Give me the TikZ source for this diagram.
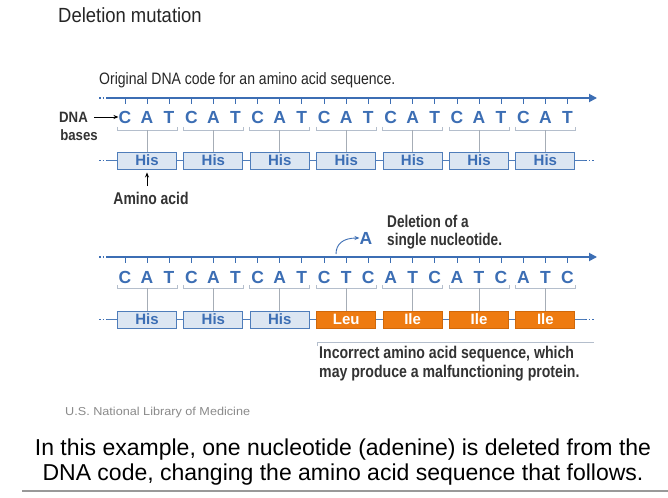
\documentclass[tikz,border=0pt]{standalone}
\usepackage{fontspec}
\setmainfont{Liberation Sans}
\usepackage{graphicx}
\usetikzlibrary{arrows.meta}
\definecolor{dnablue}{HTML}{3C6EB4}
\definecolor{boxfill}{HTML}{DCE6F2}
\definecolor{boxdraw}{HTML}{4F7DBA}
\definecolor{mutorange}{HTML}{EE7B11}
\definecolor{orangedraw}{HTML}{D0680A}
\definecolor{brkcol}{HTML}{B4BECC}
\definecolor{stemcol}{HTML}{A6ADB6}
\definecolor{textdark}{HTML}{333333}
\definecolor{creditgrey}{HTML}{8A8A8A}
\newcommand\xs[2]{\scalebox{#1}[1]{#2}}
\begin{document}
\begin{tikzpicture}[x=1pt,y=-1pt,
  txt/.style={inner sep=0pt, text=textdark},
  base/.style={inner sep=0pt, text=dnablue, font=\fontsize{17.5}{20}\selectfont\bfseries},
  hisbox/.style={draw=boxdraw, fill=boxfill, line width=0.9pt, minimum width=59pt, minimum height=17pt, inner sep=0pt, text=dnablue, font=\fontsize{15}{16}\selectfont\bfseries},
  mutbox/.style={hisbox, draw=orangedraw, fill=mutorange, text=white},
  bline/.style={draw=dnablue, line width=1.8pt},
  tickline/.style={draw=dnablue, line width=0.9pt},
  brk/.style={draw=brkcol, line width=0.8pt},
  stemline/.style={draw=stemcol, line width=0.7pt},
  conn/.style={draw=boxdraw, line width=1.6pt},
  dotend/.style={draw=dnablue, line width=1.6pt, dash pattern=on 1.5pt off 2pt},
  arr/.style={draw=black, line width=0.8pt, -{Stealth[length=5pt,width=4pt]}},
  annot/.style={txt, font=\fontsize{17}{19}\selectfont\bfseries},
]
\useasboundingbox (0,0) rectangle (668,497);
\fill[white] (0,0) rectangle (668,497);

% title
\node[txt, text=black!85, anchor=base west] (title) at (58,22.5) {\fontsize{20.5}{24}\selectfont\xs{0.9}{Deletion mutation}};
\node[txt, text=black!85, anchor=base west] (orig) at (99,85) {\fontsize{16.5}{19}\selectfont\xs{0.85}{Original DNA code for an amino acid sequence.}};

% ---------- top strand ----------
\coordinate (l1a) at (99,98);
\coordinate (l1s) at (106,98);
\coordinate (l1e) at (597,98);
\draw[dotend] (l1a) -- (l1s);
\draw[bline, -{Triangle[length=8pt,width=8pt]}] (l1s) -- (l1e);
\foreach \l [count=\k from 0] in {C,A,T,C,A,T,C,A,T,C,A,T,C,A,T,C,A,T,C,A,T}{
  \pgfmathsetmacro\xx{125+66.4*floor(\k/3)+22*mod(\k,3)}
  \node[base] (ta\k) at (\xx,117) {\l};
  \draw[tickline] (ta\k |- l1s) -- ++(0,6);
}
\foreach \i in {0,...,6}{
  \pgfmathsetmacro\ax{147+66.4*\i}
  \node[hisbox] (ba\i) at (\ax,160.5) {His};
  \coordinate (ka\i) at (\ax,130);
  \draw[brk] (\ax-30,127) -- (\ax-30,130) -- (\ax+30,130) -- (\ax+30,127);
  \draw[stemline] (ka\i) -- (ba\i.north);
}
\foreach \i [evaluate=\i as \j using int(\i+1)] in {0,...,5}{
  \draw[conn] (ba\i.east) -- (ba\j.west);
}
\coordinate (r1a) at (99,160.5);
\coordinate (r1b) at (107,160.5);
\coordinate (r1c) at (585,160.5);
\coordinate (r1d) at (594,160.5);
\draw[dotend] (r1a) -- (r1b);
\draw[conn] (r1b) -- (ba0.west);
\draw[conn] (ba6.east) -- (r1c);
\draw[dotend] (r1c) -- (r1d);

% labels top
\node[annot, font=\fontsize{15}{16}\selectfont\bfseries] (dna) at (73.5,117) {\xs{0.88}{DNA}};
\node[annot, font=\fontsize{15}{16}\selectfont\bfseries] (bases) at (79,135) {\xs{0.88}{bases}};
\draw[arr] (dna.east) ++(6,0) coordinate (dnas) -- (ta0.west);
\coordinate (aat) at (147,186);
\draw[arr, shorten >=3pt] (aat) -- (ba0.south);
\node[annot, anchor=north] (aa) at (151,192) {\xs{0.82}{Amino acid}};

% ---------- mutated strand ----------
\coordinate (l2a) at (99,257);
\coordinate (l2s) at (106,257);
\coordinate (l2e) at (597,257);
\draw[dotend] (l2a) -- (l2s);
\draw[bline, -{Triangle[length=8pt,width=8pt]}] (l2s) -- (l2e);
\foreach \l [count=\k from 0] in {C,A,T,C,A,T,C,A,T,C,T,C,A,T,C,A,T,C,A,T,C}{
  \pgfmathsetmacro\xx{125+66.4*floor(\k/3)+22*mod(\k,3)}
  \node[base] (tb\k) at (\xx,277) {\l};
  \draw[tickline] (tb\k |- l2s) -- ++(0,6);
}
\foreach \i/\aa/\st in {0/His/hisbox,1/His/hisbox,2/His/hisbox,3/Leu/mutbox,4/Ile/mutbox,5/Ile/mutbox,6/Ile/mutbox}{
  \pgfmathsetmacro\ax{147+66.4*\i}
  \node[\st] (bb\i) at (\ax,319.5) {\aa};
  \coordinate (kb\i) at (\ax,288);
  \draw[brk] (\ax-30,285) -- (\ax-30,288) -- (\ax+30,288) -- (\ax+30,285);
  \draw[stemline] (kb\i) -- (bb\i.north);
}
\foreach \i [evaluate=\i as \j using int(\i+1)] in {0,...,5}{
  \draw[conn] (bb\i.east) -- (bb\j.west);
}
\coordinate (r2a) at (99,319.5);
\coordinate (r2b) at (107,319.5);
\coordinate (r2c) at (585,319.5);
\coordinate (r2d) at (594,319.5);
\draw[dotend] (r2a) -- (r2b);
\draw[conn] (r2b) -- (bb0.west);
\draw[conn] (bb6.east) -- (r2c);
\draw[dotend] (r2c) -- (r2d);

% deletion
\node[base] (delA) at (366,238) {A};
\coordinate (cs) at (336,254);
\draw[draw=dnablue, line width=0.9pt, -{Stealth[length=5pt,width=4pt]}] (cs) .. controls (336,244) and (343,238) .. (delA.west);
\node[annot, anchor=base west] (del1) at (387,227.5) {\xs{0.8}{Deletion of a}};
\node[annot, anchor=base west] (del2) at (387,245.5) {\xs{0.8}{single nucleotide.}};

% incorrect sequence
\coordinate (ic1) at (317,346);
\coordinate (ic2) at (317,342);
\coordinate (ic3) at (594,342);
\draw[brk] (ic1) -- (ic2) -- (ic3);
\node[annot, anchor=base west] (inc1) at (319,358.5) {\xs{0.83}{Incorrect amino acid sequence, which}};
\node[annot, anchor=base west] (inc2) at (319,377) {\xs{0.83}{may produce a malfunctioning protein.}};

% credit and caption
\node[txt, text=creditgrey, anchor=west] (credit) at (65,413) {\fontsize{11.5}{13}\selectfont\xs{1.1}{U.S. National Library of Medicine}};
\node[txt, text=black, anchor=base] (cap1) at (343,455) {\fontsize{23}{25}\selectfont In this example, one nucleotide (adenine) is deleted from the};
\node[txt, text=black, anchor=base] (cap2) at (343,480) {\fontsize{23}{25}\selectfont DNA code, changing the amino acid sequence that follows.};
\draw[draw=black!40, line width=1.3pt] (22,491) -- (668,491);
\end{tikzpicture}
\end{document}
